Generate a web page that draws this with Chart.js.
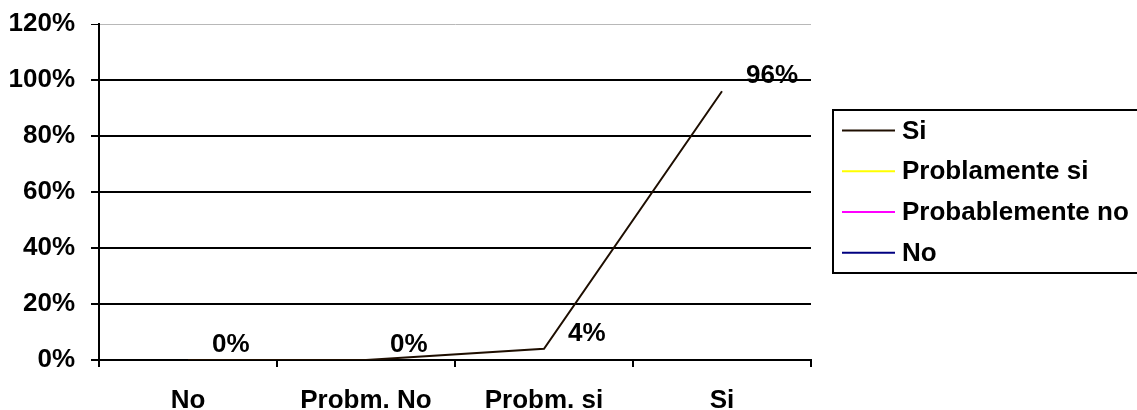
<!DOCTYPE html>
<html>
<head>
<meta charset="utf-8">
<script src="https://cdn.jsdelivr.net/npm/chart.js@4/dist/chart.umd.min.js"></script>
<style>
  html, body { margin: 0; padding: 0; background: #ffffff; }
  #wrap { width: 1137px; height: 410px; position: relative; }
</style>
</head>
<body>
<div id="wrap"><canvas id="c" width="1137" height="410"></canvas></div>
<script>
// ---- data ----
const categories = ["No", "Probm. No", "Probm. si", "Si"];
const seriesSi = [0, 0, 0.04, 0.96];
const seriesNames = ["Si", "Problamente si", "Probablemente no", "No"];
const seriesColors = ["#1e0e00", "#ffff00", "#ff00ff", "#000080"];
const yTicks = [0, 0.2, 0.4, 0.6, 0.8, 1.0, 1.2];

const FONT = "'Liberation Sans', Arial, sans-serif";
const FSIZE = 26;

const datasets = seriesNames.map((name, i) => ({
  label: name,
  data: i === 0 ? seriesSi : categories.map(() => null),
  borderColor: seriesColors[i],
  backgroundColor: seriesColors[i],
  borderWidth: 2,
  pointRadius: 0,
  tension: 0,
  fill: false
}));

const pct = v => Math.round(v * 100) + "%";

const labelPlugin = {
  id: "pointLabels",
  afterDatasetsDraw(chart) {
    const ctx = chart.ctx;
    const meta = chart.getDatasetMeta(0);
    ctx.save();
    ctx.font = "bold " + FSIZE + "px " + FONT;
    ctx.fillStyle = "#000";
    ctx.textAlign = "left";
    ctx.textBaseline = "middle";
    meta.data.forEach((pt, i) => {
      ctx.fillText(pct(seriesSi[i]), pt.x + 24, pt.y - 15);
    });
    ctx.restore();
  }
};

const legendPlugin = {
  id: "boxLegend",
  afterDraw(chart) {
    const ctx = chart.ctx;
    const left = 833, top = 110, bottom = 273, right = 1160;
    ctx.save();
    ctx.strokeStyle = "#000";
    ctx.lineWidth = 2;
    ctx.strokeRect(left, top, right - left, bottom - top);
    ctx.font = "bold " + FSIZE + "px " + FONT;
    ctx.textBaseline = "middle";
    ctx.textAlign = "left";
    const rowH = (bottom - top) / seriesNames.length;
    seriesNames.forEach((name, i) => {
      const y = top + rowH * (i + 0.5);
      ctx.strokeStyle = seriesColors[i];
      ctx.lineWidth = 2;
      ctx.beginPath();
      ctx.moveTo(842, y);
      ctx.lineTo(895, y);
      ctx.stroke();
      ctx.fillStyle = "#000";
      ctx.fillText(name, 902, y + 1);
    });
    ctx.restore();
  }
};

new Chart(document.getElementById("c"), {
  type: "line",
  data: { labels: categories, datasets },
  plugins: [labelPlugin, legendPlugin],
  options: {
    responsive: false,
    animation: false,
    layout: { padding: { left: 0, right: 326, top: 24, bottom: 0 } },
    plugins: { legend: { display: false }, tooltip: { enabled: false } },
    scales: {
      x: {
        offset: true,
        afterFit(s) { s.height = 50; s.paddingLeft = 0; s.paddingRight = 0; },
        grid: {
          offset: true,
          drawOnChartArea: false,
          drawTicks: true,
          tickLength: 7,
          color: "#000",
          lineWidth: 2
        },
        border: { display: true, color: "#000", width: 2 },
        ticks: {
          color: "#000",
          font: { family: FONT, size: FSIZE, weight: "bold" },
          padding: 18,
          maxRotation: 0
        }
      },
      y: {
        min: 0,
        max: 1.2,
        afterFit(s) { s.width = 99; s.paddingTop = 0; s.paddingBottom = 0; },
        afterBuildTicks(s) { s.ticks = yTicks.map(v => ({ value: v })); },
        grid: {
          color: c => (c.tick && c.tick.value >= 1.19) ? "#b8b8b8" : "#000",
          lineWidth: c => (c.tick && c.tick.value >= 1.19) ? 1 : 2,
          tickColor: "#000",
          tickLength: 8,
          drawTicks: true
        },
        border: { display: true, color: "#000", width: 2 },
        ticks: {
          color: "#000",
          font: { family: FONT, size: FSIZE, weight: "bold" },
          padding: 16,
          callback: v => pct(v)
        }
      }
    }
  }
});
</script>
</body>
</html>
